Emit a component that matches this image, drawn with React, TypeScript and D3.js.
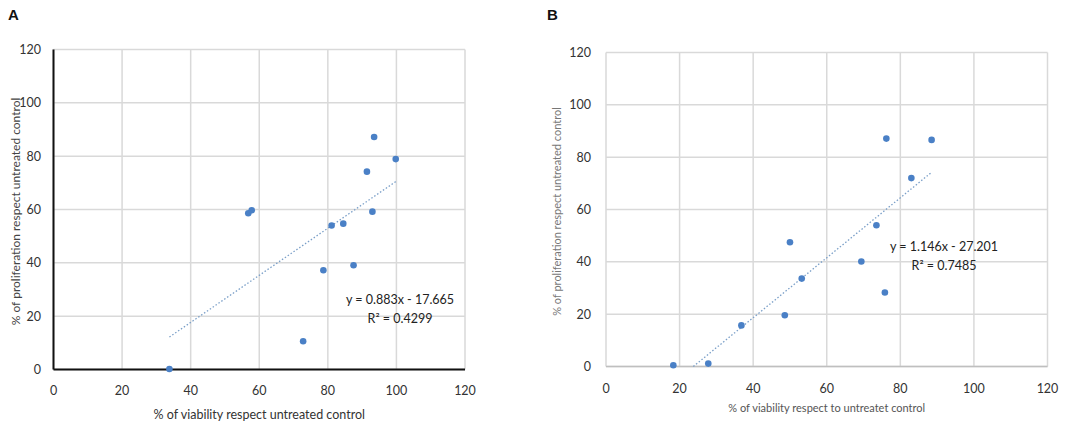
import { useEffect, useRef } from "react";
import * as d3 from "d3";

// Panel A: viability vs proliferation
const viabilityA = [33.8, 56.8, 57.8, 72.8, 78.7, 81.1, 84.5, 87.5, 91.4, 93.0, 93.5, 99.8];
const proliferationA = [0.2, 58.6, 59.7, 10.6, 37.2, 54.0, 54.7, 39.1, 74.2, 59.2, 87.2, 78.9];

// Panel B
const viabilityB = [18.3, 27.8, 36.8, 48.6, 50.0, 53.2, 69.4, 73.5, 75.8, 76.2, 83.0, 88.5];
const proliferationB = [0.5, 1.1, 15.7, 19.6, 47.5, 33.6, 40.1, 54.0, 28.3, 87.1, 72.0, 86.6];

const ticks = [0, 20, 40, 60, 80, 100, 120];

const FONT = "Lato, 'Open Sans', sans-serif";
const DOT = "#4a80c6";

interface PanelCfg {
  letter: string;
  letterX: number;
  xs: number[];
  ys: number[];
  left: number;
  right: number;
  top: number;
  bottom: number;
  slope: number;
  intercept: number;
  fitFrom: number;
  fitTo: number;
  eq: string[];
  eqX: number;
  eqY: number;
  xLabel: string;
  xLabelY: number;
  xLabelSize: number;
  xLabelColor: string;
  yLabel: string;
  yLabelX: number;
  yLabelSize: number;
  yLabelColor: string;
  darkAxes: boolean;
  tickLabelX: number;
  tickLabelY: number;
}

const panels: PanelCfg[] = [
  {
    letter: "A",
    letterX: 8,
    xs: viabilityA,
    ys: proliferationA,
    left: 53.5,
    right: 465,
    top: 49.5,
    bottom: 369.5,
    slope: 0.883,
    intercept: -17.665,
    fitFrom: 33.8,
    fitTo: 99.8,
    eq: ["y = 0.883x - 17.665", "R² = 0.4299"],
    eqX: 400,
    eqY: 304,
    xLabel: "% of viability respect untreated control",
    xLabelY: 419,
    xLabelSize: 12.5,
    xLabelColor: "#333",
    yLabel: "% of proliferation respect untreated control",
    yLabelX: 20,
    yLabelSize: 12,
    yLabelColor: "#444",
    darkAxes: true,
    tickLabelX: 41,
    tickLabelY: 395,
  },
  {
    letter: "B",
    letterX: 547,
    xs: viabilityB,
    ys: proliferationB,
    left: 606,
    right: 1047.5,
    top: 52.5,
    bottom: 366.5,
    slope: 1.146,
    intercept: -27.201,
    fitFrom: 27.201 / 1.146,
    fitTo: 88.5,
    eq: ["y = 1.146x - 27.201", "R² = 0.7485"],
    eqX: 944,
    eqY: 251,
    xLabel: "% of viability respect to untreatet control",
    xLabelY: 412,
    xLabelSize: 11,
    xLabelColor: "#555",
    yLabel: "% of proliferation respect untreated control",
    yLabelX: 561,
    yLabelSize: 11,
    yLabelColor: "#777",
    darkAxes: false,
    tickLabelX: 591,
    tickLabelY: 393,
  },
];

export default function App() {
  const svgRef = useRef<SVGSVGElement>(null);

  useEffect(() => {
    if (!svgRef.current) return;
    const svg = d3.select(svgRef.current);
    svg.selectAll("*").remove();

    svg.append("rect").attr("width", 1084).attr("height", 433).attr("fill", "#fff");

    panels.forEach((p) => {
      const x = d3.scaleLinear().domain([0, 120]).range([p.left, p.right]);
      const y = d3.scaleLinear().domain([0, 120]).range([p.bottom, p.top]);
      const g = svg.append("g");

      // panel letter
      g.append("text")
        .attr("x", p.letterX)
        .attr("y", 20)
        .attr("font-family", "'Liberation Sans', Arial, sans-serif")
        .attr("font-weight", "bold")
        .attr("font-size", 15)
        .attr("fill", "#111")
        .text(p.letter);

      // grid
      g.selectAll(".vg")
        .data(ticks)
        .enter()
        .append("line")
        .attr("x1", (d) => x(d))
        .attr("x2", (d) => x(d))
        .attr("y1", y(0))
        .attr("y2", y(120))
        .attr("stroke", "#d9d9d9")
        .attr("stroke-width", 1.5);

      g.selectAll(".hg")
        .data(ticks)
        .enter()
        .append("line")
        .attr("x1", x(0))
        .attr("x2", x(120))
        .attr("y1", (d) => y(d))
        .attr("y2", (d) => y(d))
        .attr("stroke", "#d9d9d9")
        .attr("stroke-width", 1.5);

      if (p.darkAxes) {
        g.append("line")
          .attr("x1", x(0))
          .attr("x2", x(0))
          .attr("y1", y(0))
          .attr("y2", y(120))
          .attr("stroke", "#111")
          .attr("stroke-width", 2);
        g.append("line")
          .attr("x1", x(0))
          .attr("x2", x(120))
          .attr("y1", y(0))
          .attr("y2", y(0))
          .attr("stroke", "#111")
          .attr("stroke-width", 2);
      } else {
        g.append("line")
          .attr("x1", x(0))
          .attr("x2", x(120))
          .attr("y1", y(0))
          .attr("y2", y(0))
          .attr("stroke", "#bfbfbf")
          .attr("stroke-width", 1.5);
      }

      // tick labels
      g.selectAll(".xt")
        .data(ticks)
        .enter()
        .append("text")
        .attr("x", (d) => x(d))
        .attr("y", p.tickLabelY)
        .attr("text-anchor", "middle")
        .attr("font-family", FONT)
        .attr("font-size", 12.5)
        .attr("fill", "#333")
        .text((d) => d);

      g.selectAll(".yt")
        .data(ticks)
        .enter()
        .append("text")
        .attr("x", p.tickLabelX)
        .attr("y", (d) => y(d))
        .attr("dy", "0.35em")
        .attr("text-anchor", "end")
        .attr("font-family", FONT)
        .attr("font-size", 12.5)
        .attr("fill", "#333")
        .text((d) => d);

      // axis titles
      g.append("text")
        .attr("x", (p.left + p.right) / 2)
        .attr("y", p.xLabelY)
        .attr("text-anchor", "middle")
        .attr("font-family", FONT)
        .attr("font-size", p.xLabelSize)
        .attr("fill", p.xLabelColor)
        .text(p.xLabel);

      g.append("text")
        .attr("transform", `translate(${p.yLabelX},${(p.top + p.bottom) / 2 + 2}) rotate(-90)`)
        .attr("text-anchor", "middle")
        .attr("font-family", FONT)
        .attr("font-size", p.yLabelSize)
        .attr("fill", p.yLabelColor)
        .text(p.yLabel);

      // trendline
      g.append("line")
        .attr("x1", x(p.fitFrom))
        .attr("y1", y(p.slope * p.fitFrom + p.intercept))
        .attr("x2", x(p.fitTo))
        .attr("y2", y(p.slope * p.fitTo + p.intercept))
        .attr("stroke", "#7a9fc8")
        .attr("stroke-width", 1.3)
        .attr("stroke-dasharray", "1.5,2");

      // points
      g.selectAll(".pt")
        .data(p.xs.map((v, i) => [v, p.ys[i]]))
        .enter()
        .append("circle")
        .attr("cx", (d) => x(d[0]))
        .attr("cy", (d) => y(d[1]))
        .attr("r", 3.3)
        .attr("fill", DOT);

      // equation
      g.append("text")
        .attr("x", p.eqX)
        .attr("y", p.eqY)
        .attr("text-anchor", "middle")
        .attr("font-family", FONT)
        .attr("font-size", 12.5)
        .attr("fill", "#222")
        .text(p.eq[0]);
      g.append("text")
        .attr("x", p.eqX)
        .attr("y", p.eqY + 19)
        .attr("text-anchor", "middle")
        .attr("font-family", FONT)
        .attr("font-size", 12.5)
        .attr("fill", "#222")
        .text(p.eq[1]);
    });
  }, []);

  return (
    <svg
      ref={svgRef}
      width={1084}
      height={433}
      style={{ position: "absolute", left: 0, top: 0 }}
    />
  );
}
